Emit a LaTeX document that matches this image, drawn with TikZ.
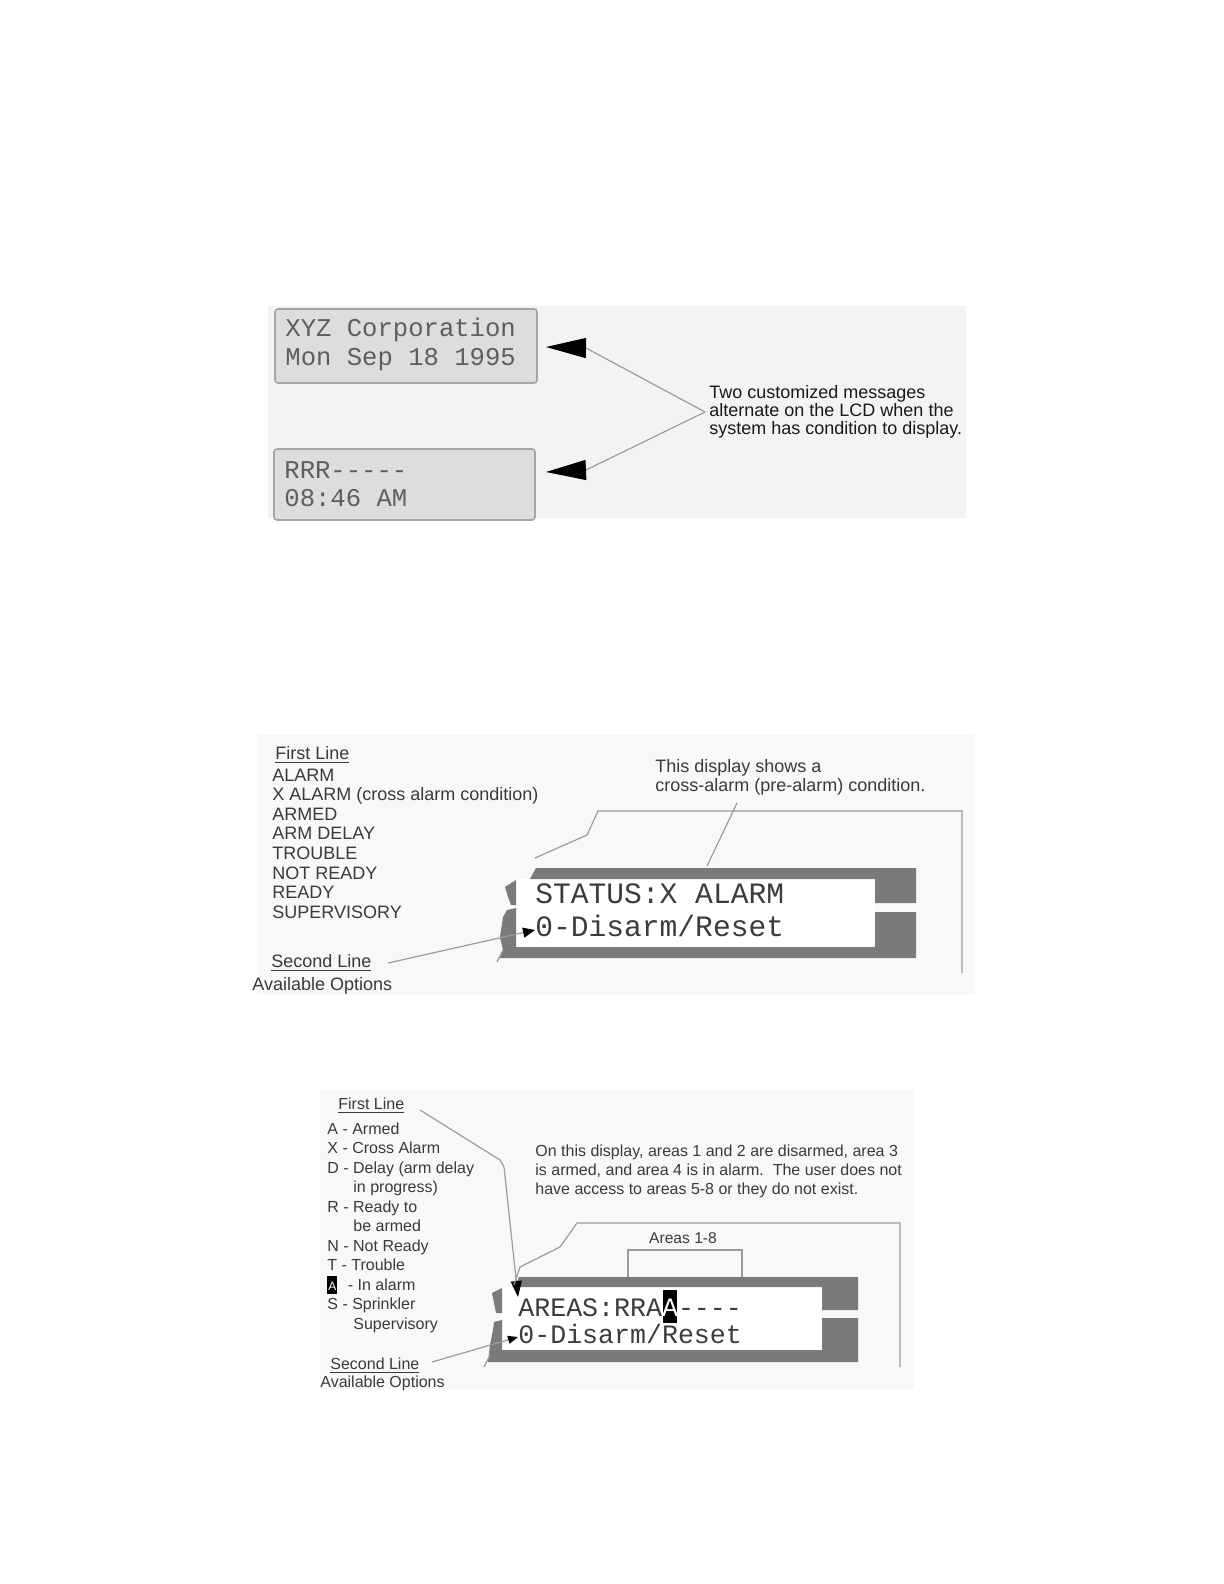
\documentclass[tikz,border=0pt]{standalone}
\usepackage{fontspec}
\setmainfont{Liberation Sans}
\newfontfamily\lcdfont{Liberation Mono}
\usetikzlibrary{arrows.meta}
\definecolor{bgA}{HTML}{F3F3F3}
\definecolor{bgB}{HTML}{F8F8F8}
\definecolor{lcdfill}{HTML}{DDDDDD}
\definecolor{lcdedge}{HTML}{A6A6A6}
\definecolor{lcdframe}{HTML}{7A7A7A}
\definecolor{leader}{HTML}{9C9C9C}
\definecolor{ink}{HTML}{3A3A3A}
\definecolor{lcdink}{HTML}{3C3C3C}
\definecolor{lcdlight}{HTML}{5E5E5E}
\begin{document}
\begin{tikzpicture}[x=0.5pt,y=-0.5pt,
  lbl/.style={inner sep=0pt,anchor=west,align=left,text=ink,text height=0.72em,text depth=0pt},
  para/.style={inner sep=0pt,anchor=west,align=left,text=ink},
  lcdtxt/.style={inner sep=0pt,anchor=west,text=lcdink,text height=0.6em,text depth=0pt},
  lcdbox/.style={draw=lcdedge,fill=lcdfill,line width=0.8pt,rounded corners=1.5pt,inner sep=0pt},
  leadline/.style={draw=leader,line width=0.6pt},
  bigtip/.style={-{Triangle[length=20pt,width=10pt,color=black]}},
  fnine/.style={font=\fontsize{9}{9.8}\selectfont},
  feight/.style={font=\fontsize{8}{9.75}\selectfont},
  lcdA/.style={font=\lcdfont\fontsize{12.8}{14}\selectfont,text=lcdlight},
  lcdB/.style={font=\lcdfont\fontsize{14.8}{16}\selectfont},
  lcdC/.style={font=\lcdfont\fontsize{13.3}{15}\selectfont},
]
\useasboundingbox[fill=white] (0,0) rectangle (1224,1584);

% ---------------- top panel ----------------
\fill[bgA] (268,306) rectangle (966,518);
\node[lcdbox,minimum width=131pt,minimum height=37pt] (box1) at (406,346) {};
\node[lcdbox,minimum width=130.5pt,minimum height=35.5pt] (box2) at (404.5,484.5) {};
\node[lcdtxt,lcdA] (t1a) at (285,330) {XYZ Corporation};
\node[lcdtxt,lcdA] (t1b) at (285,359) {Mon Sep 18 1995};
\node[lcdtxt,lcdA] (t2a) at (284,472) {RRR-----};
\node[lcdtxt,lcdA] (t2b) at (284,500) {08:46 AM};
\node[para,text=black!90,font=\fontsize{9}{9.1}\selectfont,inner sep=2pt] (msg) at (705,412)
  {Two customized messages\\alternate on the LCD when the\\system has condition to display.};
\coordinate (b1) at (586,348); \coordinate (tip1) at (546,347);
\coordinate (b2) at (586,470); \coordinate (tip2) at (546,472);
\draw[leadline,bigtip] (msg.west) -- (b1) -- (tip1);
\draw[leadline,bigtip] (msg.west) -- (b2) -- (tip2);

% ---------------- middle panel ----------------
\fill[bgB] (257,735) rectangle (975,995);
\node[lbl,fnine] (fl2) at (275,752) {\underline{First Line}};
\node[para,fnine] (list2) at (272,843.5) {ALARM\\X ALARM (cross alarm condition)\\ARMED\\ARM DELAY\\TROUBLE\\NOT READY\\READY\\SUPERVISORY};
\node[lbl,fnine] (sl2) at (271,960) {\underline{Second Line}};
\node[lbl,fnine] (ao2) at (252,983) {Available Options};
\node[para,font=\fontsize{9}{9.5}\selectfont] (note2) at (655,777.5) {This display shows a\\cross-alarm (pre-alarm) condition.};

\fill[white] (516,879) rectangle (875,947);
\fill[lcdframe] (530,879) -- (536,868) -- (916,868) -- (916,903) -- (875,903) -- (875,879) -- cycle;
\fill[lcdframe] (875,912) -- (916,912) -- (916,958) -- (500,958) -- (503,950) -- (500,937) -- (503,917) -- (507,910) -- (516,908) -- (516,947) -- (875,947) -- cycle;
\fill[lcdframe] (505,887) -- (516,880) -- (516,905) -- (511,905) -- (508,897) -- cycle;
\node[lcdtxt,lcdB] (lcd2a) at (535,897) {STATUS:X ALARM};
\node[lcdtxt,lcdB] (lcd2b) at (535,930) {0-Disarm/Reset};

\coordinate (s2a) at (388,963);
\draw[leadline,-{Triangle[length=6pt,width=5pt,color=black]}] (s2a) -- (lcd2b.west);
\coordinate (n2a) at (737,803); \coordinate (n2b) at (707,866);
\draw[leadline] (n2a) -- (n2b);
\coordinate (m1) at (535,858); \coordinate (m2) at (587,835); \coordinate (m3) at (598,811);
\coordinate (m4) at (962,811); \coordinate (m5) at (962,973);
\draw[leadline] (m1) -- (m2) -- (m3) -- (m4) -- (m5);
\coordinate (e2a) at (497,962); \coordinate (e2b) at (503,950);
\draw[leadline] (e2a) -- (e2b);

% ---------------- bottom panel ----------------
\fill[bgB] (320,1090) rectangle (914,1389);
\node[lbl,feight] (fl3) at (338,1102) {\underline{First Line}};
\node[para,feight] (list3) at (327,1227.5) {A - Armed\\X - Cross Alarm\\D - Delay (arm delay\\\hspace*{13pt}in progress)\\R - Ready to\\\hspace*{13pt}be armed\\N - Not Ready\\T - Trouble\\{\setlength\fboxsep{0.5pt}\colorbox{black}{\raisebox{0pt}[6.8pt][1.5pt]{\textcolor{white}{\fontsize{6}{6}\selectfont A}}}}\hspace*{3pt} - In alarm\\S - Sprinkler\\\hspace*{13pt}Supervisory};
\node[lbl,feight] (sl3) at (330,1362) {\underline{Second Line}};
\node[lbl,feight] (ao3) at (320,1380) {Available Options};
\node[para,font=\fontsize{8}{9.5}\selectfont] (desc3) at (535,1171) {On this display, areas 1 and 2 are disarmed, area 3\\is armed, and area 4 is in alarm.\ \ The user does not\\have access to areas 5-8 or they do not exist.};
\node[inner sep=0pt,text=ink,font=\fontsize{7.8}{8}\selectfont] (ar3) at (683,1238) {Areas 1-8};
\coordinate (k1) at (628,1290); \coordinate (k2) at (628,1250); \coordinate (k3) at (742,1250); \coordinate (k4) at (742,1290);
\draw[leadline] (k1) -- (k2) -- (k3) -- (k4);

\fill[white] (502,1287) rectangle (822,1350);
\fill[lcdframe] (515,1287) -- (519,1277) -- (858,1277) -- (858,1310) -- (822,1310) -- (822,1287) -- cycle;
\fill[lcdframe] (822,1318) -- (858,1318) -- (858,1362) -- (488,1362) -- (490,1345) -- (493,1330) -- (494,1322) -- (502,1320) -- (502,1350) -- (822,1350) -- cycle;
\fill[lcdframe] (492,1293) -- (502,1288) -- (502,1313) -- (496,1313) -- (494,1303) -- cycle;
\fill[black] (663,1290) rectangle (677,1323);
\node[lcdtxt,lcdC] (lcd3a) at (518,1310) {AREAS:RRA\textcolor{white}{A}----};
\node[lcdtxt,lcdC] (lcd3b) at (518,1337) {0-Disarm/Reset};

\coordinate (f3a) at (420,1110); \coordinate (f3b) at (500,1160); \coordinate (f3c) at (504,1167); \coordinate (f3tip) at (518,1297);
\draw[leadline,-{Triangle[length=8pt,width=5.5pt,color=black]}] (f3a) -- (f3b) -- (f3c) -- (f3tip);
\coordinate (s3a) at (432,1362);
\draw[leadline,-{Triangle[length=5pt,width=4pt,color=black]}] (s3a) -- (lcd3b.west);
\coordinate (q1) at (514,1285); \coordinate (q2) at (520,1267); \coordinate (q3) at (560,1247);
\coordinate (q4) at (577,1223); \coordinate (q5) at (900,1223); \coordinate (q6) at (900,1367);
\draw[leadline] (q1) -- (q2) -- (q3) -- (q4) -- (q5) -- (q6);
\coordinate (e3a) at (484,1367); \coordinate (e3b) at (490,1355);
\draw[leadline] (e3a) -- (e3b);
\end{tikzpicture}
\end{document}
